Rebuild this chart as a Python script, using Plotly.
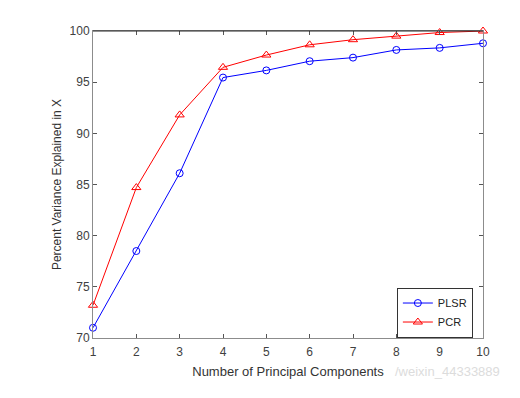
import plotly.graph_objects as go

components = [1, 2, 3, 4, 5, 6, 7, 8, 9, 10]
plsr = [71.0, 78.5, 86.1, 95.45, 96.15, 97.05, 97.4, 98.15, 98.35, 98.8]
pcr = [73.2, 84.7, 91.8, 96.45, 97.65, 98.65, 99.15, 99.5, 99.85, 100.0]
y_ticks = [70, 75, 80, 85, 90, 95, 100]

FONT = "Liberation Sans, Arial, sans-serif"

fig = go.Figure()
fig.add_trace(go.Scatter(
    x=components, y=plsr, name="PLSR", mode="lines+markers",
    line=dict(color="#0000ff", width=1),
    marker=dict(symbol="circle-open", size=7, color="#0000ff", line=dict(width=1)),
    cliponaxis=False,
))
fig.add_trace(go.Scatter(
    x=components, y=pcr, name="PCR", mode="lines+markers",
    line=dict(color="#ff0000", width=1),
    marker=dict(symbol="triangle-up-open", size=8, color="#ff0000", line=dict(width=1)),
    cliponaxis=False,
))

fig.update_layout(
    width=504, height=382,
    margin=dict(l=85, r=29, t=23, b=52, autoexpand=False),
    paper_bgcolor="white", plot_bgcolor="white",
    font=dict(family=FONT, size=12, color="#404040"),
    showlegend=True,
    legend=dict(
        x=0.974, y=0.083, xanchor="right", yanchor="middle",
        bgcolor="white", bordercolor="#333333", borderwidth=1,
        font=dict(family=FONT, size=11, color="#222222"),
        tracegroupgap=0, itemwidth=30,
    ),
    xaxis=dict(
        range=[1, 10], tickmode="array", tickvals=components,
        ticks="inside", ticklen=4, tickcolor="#555555",
        ticklabelstandoff=3,
        tickfont=dict(family=FONT, size=12, color="#404040"),
        showline=True, linecolor="#8c8c8c", linewidth=1, mirror="ticks",
        showgrid=False, zeroline=False,
        title=dict(text="Number of Principal Components", standoff=8,
                   font=dict(family=FONT, size=13, color="#333333")),
    ),
    yaxis=dict(
        range=[70, 100], tickmode="array", tickvals=y_ticks,
        ticks="inside", ticklen=4, tickcolor="#555555",
        tickfont=dict(family=FONT, size=12, color="#404040"),
        showline=True, linecolor="#8c8c8c", linewidth=1, mirror="ticks",
        showgrid=False, zeroline=False,
        title=dict(text="Percent Variance Explained in X", standoff=5,
                   font=dict(family=FONT, size=12, color="#333333")),
    ),
)

fig.add_shape(type="line", xref="paper", yref="paper", x0=0, x1=1, y0=1, y1=1,
              line=dict(color="#262626", width=1))

fig.add_annotation(text="/weixin_44333889", xref="paper", yref="paper",
                   x=0.77, y=-0.108, xanchor="left", yanchor="middle", showarrow=False,
                   font=dict(family=FONT, size=13, color="#dcdcdc"))

fig.write_html("out.html")
